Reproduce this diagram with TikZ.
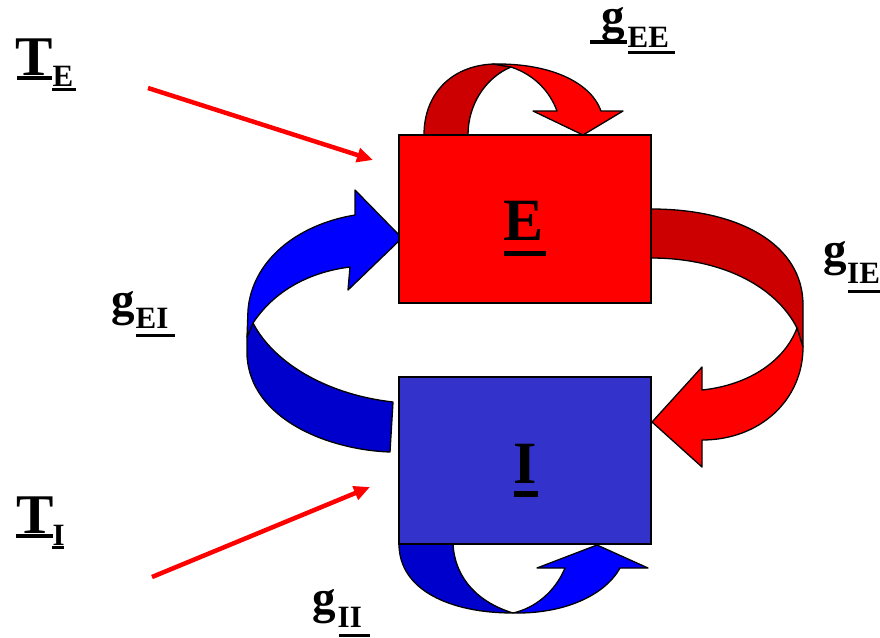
\documentclass[tikz,border=0pt]{standalone}
\usepackage{fontspec}
\setmainfont{Liberation Serif}
\usetikzlibrary{arrows.meta}
\definecolor{bred}{RGB}{255,0,0}
\definecolor{dred}{RGB}{204,0,0}
\definecolor{bblue}{RGB}{0,0,255}
\definecolor{dblue}{RGB}{0,0,204}
\definecolor{iblue}{RGB}{51,51,204}
\tikzset{
  band/.style={draw=black,line width=1.3pt,line join=round},
  boxst/.style={draw=black,line width=1.6pt},
  big/.style={inner sep=0pt,anchor=base,font=\fontsize{60}{60}\selectfont\bfseries},
  mid/.style={inner sep=0pt,anchor=base,font=\fontsize{56}{56}\selectfont\bfseries},
  gee/.style={inner sep=0pt,anchor=base,font=\fontsize{47}{47}\selectfont\bfseries},
  sub/.style={inner sep=0pt,anchor=base west,font=\fontsize{31}{31}\selectfont\bfseries},
  ul/.style={fill=black,draw=none},
  inarrow/.style={draw=bred,line width=4.5pt,-{Triangle[length=16pt,width=14pt]}}
}
\begin{document}
\begin{tikzpicture}[x=1pt,y=-1pt]
\useasboundingbox (0,0) rectangle (880,637);
% ---- E -> E (top)
\path[band,fill=dred] (424,135) .. controls (424,95) and (450,66) .. (493,64) -- (511,67)
  .. controls (485,78) and (468,105) .. (468,135) -- cycle;
\path[band,fill=bred] (493,64) .. controls (555,63) and (592,85) .. (601,111) -- (623,111) -- (583,135)
  -- (533,111) -- (557,111) .. controls (550,92) and (535,75) .. (511,67) -- cycle;
% ---- E -> I (right)
\path[band,fill=dred] (651,209) .. controls (740,209) and (803,245) .. (803,305) -- (803,347) -- (797,328)
  .. controls (775,285) and (720,258) .. (651,258) -- cycle;
\path[band,fill=bred] (797,328) -- (803,347) .. controls (803,400) and (760,440) .. (702,440) -- (702,467)
  -- (652,422) -- (702,367) -- (702,390) .. controls (750,385) and (785,360) .. (797,328) -- cycle;
% ---- I -> E (left)
\path[band,fill=dblue] (253,323) -- (247,337) -- (247,355) .. controls (250,420) and (330,450) .. (390,452)
  -- (393,402) .. controls (330,395) and (275,365) .. (253,323) -- cycle;
\path[band,fill=bblue] (402,238) -- (355,190) -- (355,215) .. controls (295,225) and (252,262) .. (248,310)
  -- (247,337) -- (253,323) .. controls (275,290) and (310,272) .. (350,267) -- (348,290) -- cycle;
% ---- I -> I (bottom)
\path[band,fill=dblue] (399,544) .. controls (399,590) and (450,613) .. (513,613)
  .. controls (480,603) and (455,580) .. (453,544) -- cycle;
\path[band,fill=bblue] (513,613) .. controls (565,614) and (605,595) .. (620,568) -- (648,568) -- (597,545)
  -- (537,568) -- (565,568) .. controls (555,592) and (535,608) .. (513,613) -- cycle;
% ---- boxes
\node[boxst,fill=bred,minimum width=252pt,minimum height=168pt,inner sep=0pt] (E) at (525,219) {};
\node[boxst,fill=iblue,minimum width=252pt,minimum height=167pt,inner sep=0pt] (I) at (525,460.5) {};
\node[big] (Elab) at (523.5,240) {E};
\path[ul] (504,251) rectangle (546,256);
\node[big] (Ilab) at (525,483) {I};
\path[ul] (514,491) rectangle (538,497);
% ---- inputs
\coordinate (teS) at (148,88);
\coordinate (teE) at (373,160);
\coordinate (tiS) at (152,577);
\coordinate (tiE) at (370,487);
\draw[inarrow] (teS) -- (teE);
\draw[inarrow] (tiS) -- (tiE);
% ---- labels
\node[mid] (TE) at (34.5,75) {T};
\path[ul] (17,76) rectangle (52,80);
\node[sub] (TEs) at (52.5,86) {E};
\path[ul] (52,88) rectangle (76,91);
\node[mid] (TI) at (35,533) {T};
\path[ul] (16,534) rectangle (53,538);
\node[sub] (TIs) at (52.5,545) {I};
\path[ul] (52,546) rectangle (64,549);
\node[gee] (gEE) at (613.5,31) {g};
\path[ul] (590,40) rectangle (627,44);
\node[sub] (gEEs) at (627.5,47.5) {EE};
\path[ul] (628,51) rectangle (675,54);
\node[gee] (gIE) at (835,265) {g};
\node[sub] (gIEs) at (847,283) {IE};
\path[ul] (848,290) rectangle (885,293);
\node[gee] (gEI) at (123.5,315) {g};
\node[sub] (gEIs) at (135.5,328) {EI};
\path[ul] (136,334) rectangle (175,337);
\node[gee] (gII) at (324.5,613) {g};
\node[sub] (gIIs) at (337.5,627) {II};
\path[ul] (339,634) rectangle (370,637);
\end{tikzpicture}
\end{document}
